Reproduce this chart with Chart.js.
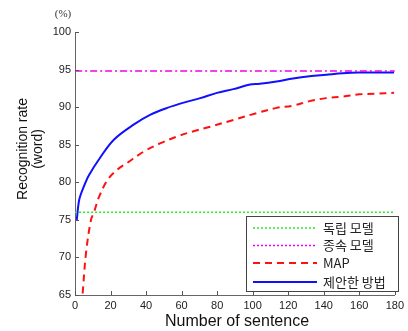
<!DOCTYPE html>
<html><head><meta charset="utf-8">
<script src="https://cdn.jsdelivr.net/npm/chart.js@4"></script>
<style>html,body{margin:0;padding:0;background:#fff}#wrap{width:408px;height:331px}</style>
</head><body><div id="wrap"><canvas id="c" width="408" height="331"></canvas></div>
<script>
const xTicks = [0,20,40,60,80,100,120,140,160,180];
const yTicks = [65,70,75,80,85,90,95,100];
const seriesNames = ['독립 모델','종속 모델','MAP','제안한 방법'];
const indepX = [0,180];
const indepY = [76,76];
const depX = [0,180];
const depY = [94.8,94.8];
const mapX = [4.3,6.2,9,10.8,13.6,18.3,23.9,29.5,38.8,48.1,57.5,66.8,76.1,89.1,102.2,113.4,122.7,132,141.4,150.7,160,169.4,179.6];
const mapY = [65.2,70.6,75,76.1,78.1,80.3,81.7,82.6,84.1,85.2,86.1,86.8,87.4,88.3,89.2,89.9,90.2,90.8,91.2,91.4,91.7,91.8,91.9];
const propX = [1,2.4,4.9,8,14.5,22,33.2,42.5,51.9,61.2,70.5,79.9,89.1,98.5,104,113.4,122.7,132,141.4,150.7,160,169.4,179.6];
const propY = [75.0,77.7,79.4,81.0,83.4,85.7,87.7,89.0,89.9,90.6,91.2,91.9,92.4,93.0,93.1,93.4,93.8,94.1,94.3,94.5,94.6,94.6,94.6];

const pts = (xs, ys) => xs.map((x,i)=>({x, y: ys[i]}));
const styles = [
  {color:'#22ee22', dash:[2,2], width:1.5, legendDash:[2,2]},
  {color:'#ee00ee', dash:[7,3,2,3], width:1.5, legendDash:[2,2]},
  {color:'#ff1111', dash:[7,5], width:2, legendDash:[7,5]},
  {color:'#1010ff', dash:[], width:2, legendDash:[]}
];
const dataSets = [pts(indepX,indepY), pts(depX,depY), pts(mapX,mapY), pts(propX,propY)];

const L = 75, T = 32, R = 396, B = 295;
const W = 408, H = 331;

const decor = {
  id:'decor',
  afterDraw(chart){
    const ctx = chart.ctx, xs = chart.scales.x, ys = chart.scales.y, a = chart.chartArea;
    ctx.save();
    ctx.strokeStyle = '#555'; ctx.lineWidth = 1;
    ctx.beginPath();
    yTicks.forEach(v=>{const y=Math.round(ys.getPixelForValue(v))+0.5; ctx.moveTo(a.left,y); ctx.lineTo(a.left+4,y);});
    xTicks.forEach(v=>{const x=Math.round(xs.getPixelForValue(v))+0.5; ctx.moveTo(x,a.bottom); ctx.lineTo(x,a.bottom-4);});
    ctx.stroke();
    // legend
    const bx=246.5, by=216.5, bw=152, bh=75;
    ctx.fillStyle='#fff'; ctx.fillRect(bx,by,bw,bh);
    ctx.strokeStyle='#444'; ctx.lineWidth=1; ctx.strokeRect(bx,by,bw,bh);
    const rows=[228,245.5,263,282];
    ctx.font='13px "Noto Sans CJK KR", "Liberation Sans", sans-serif';
    ctx.textBaseline='middle'; ctx.textAlign='left';
    seriesNames.forEach((n,i)=>{
      const s=styles[i];
      ctx.strokeStyle=s.color; ctx.lineWidth=s.width; ctx.setLineDash(s.legendDash);
      ctx.beginPath(); ctx.moveTo(253,rows[i]); ctx.lineTo(317,rows[i]); ctx.stroke();
      ctx.setLineDash([]);
      ctx.fillStyle='#222'; ctx.fillText(n,323,rows[i]);
    });
    // titles
    ctx.fillStyle='#111';
    ctx.font='16px "Liberation Sans", Arial, sans-serif';
    ctx.textAlign='center';
    ctx.fillText('Number of sentence',237,322);
    ctx.font='14px "Liberation Sans", Arial, sans-serif';
    ctx.save();
    ctx.translate(23,149); ctx.rotate(-Math.PI/2);
    ctx.fillText('Recognition rate',0,0);
    ctx.restore();
    ctx.save();
    ctx.translate(38,149); ctx.rotate(-Math.PI/2);
    ctx.fillText('(word)',0,0);
    ctx.restore();
    ctx.font='11px "Liberation Serif", serif';
    ctx.fillStyle='#333';
    ctx.fillText('(%)',63,14);
    ctx.restore();
  }
};

new Chart(document.getElementById('c'), {
  type:'line',
  data:{datasets: dataSets.map((d,i)=>({
    label: seriesNames[i], data:d, borderColor:styles[i].color, borderWidth:styles[i].width,
    borderDash:styles[i].dash, pointRadius:0, fill:false, tension:0.35
  }))},
  options:{
    responsive:false, animation:false, devicePixelRatio:1,
    layout:{padding:{left:0, top:T, right:W-R, bottom:0}},
    plugins:{legend:{display:false}, tooltip:{enabled:false}},
    scales:{
      x:{type:'linear', min:0, max:180,
        afterBuildTicks(s){ s.ticks = xTicks.map(v=>({value:v})); },
        afterFit(s){ s.height = H - B; },
        grid:{display:false, drawTicks:false, tickLength:0}, border:{display:true, color:'#666', width:1},
        ticks:{color:'#222', padding:4, maxRotation:0, font:{family:'"Liberation Sans", Arial, sans-serif', size:11}}
      },
      y:{type:'linear', min:65, max:100,
        afterBuildTicks(s){ s.ticks = yTicks.map(v=>({value:v})); },
        afterFit(s){ s.width = L; },
        grid:{display:false, drawTicks:false, tickLength:0}, border:{display:true, color:'#666', width:1},
        ticks:{color:'#222', padding:4, font:{family:'"Liberation Sans", Arial, sans-serif', size:11}}
      }
    }
  },
  plugins:[decor]
});
</script></body></html>
